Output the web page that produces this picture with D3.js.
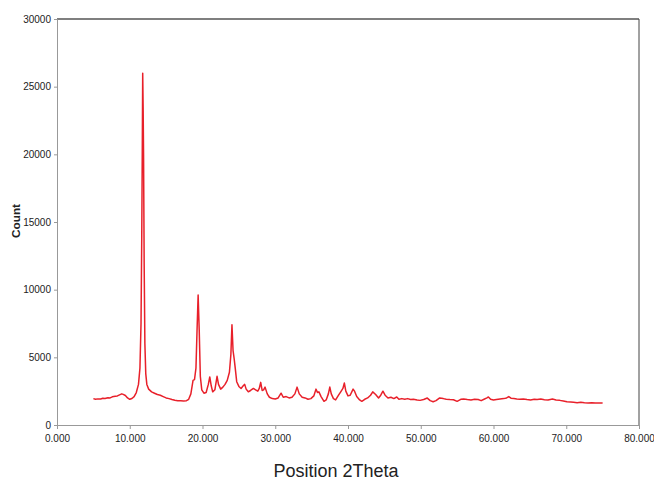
<!DOCTYPE html>
<html>
<head>
<meta charset="utf-8">
<script src="https://cdn.jsdelivr.net/npm/d3@7"></script>
<style>
    body { margin: 0; background: #fff; }
    svg text { font-family: "Liberation Sans", Arial, sans-serif; fill: #222; }
</style>
</head>
<body>
<svg id="chart" width="654" height="481"></svg>
<script>
// 2Theta positions and counts
const twoTheta = [
    5.0, 5.3, 5.6, 6.0, 6.3, 6.6, 7.0, 7.3, 7.6, 8.0, 8.3, 8.6, 8.9, 9.1, 9.4, 9.7,
    10.0, 10.3, 10.6, 10.9, 11.2, 11.4, 11.55, 11.65, 11.72, 11.78, 11.84, 11.9, 11.98, 12.08, 12.2, 12.35, 12.6,
    13.0, 13.4, 13.8, 14.2, 14.6, 15.0, 15.4, 15.8, 16.2, 16.6, 17.0, 17.4, 17.8, 18.1, 18.4, 18.7, 18.9,
    19.1, 19.25, 19.4, 19.55, 19.7, 19.9, 20.2, 20.5, 20.8, 21.0, 21.2, 21.4, 21.7, 22.0, 22.2, 22.5, 22.8,
    23.1, 23.4, 23.7, 23.9, 24.05, 24.2, 24.35, 24.5, 24.7, 25.0, 25.3, 25.6, 25.8, 26.0, 26.3, 26.6,
    27.0, 27.3, 27.6, 27.8, 28.0, 28.2, 28.4, 28.6, 28.9, 29.2, 29.6, 30.0, 30.4, 30.8, 31.1, 31.5, 31.9,
    32.3, 32.7, 33.0, 33.3, 33.7, 34.1, 34.5, 34.9, 35.3, 35.6, 35.8, 36.0, 36.3, 36.7, 37.0, 37.3, 37.5,
    37.7, 38.0, 38.3, 38.7, 39.0, 39.3, 39.5, 39.7, 40.0, 40.3, 40.7, 40.9, 41.2, 41.6, 41.9, 42.3, 42.7,
    43.1, 43.4, 43.8, 44.2, 44.5, 44.8, 45.1, 45.5, 45.9, 46.3, 46.7, 47.0, 47.4, 47.8, 48.2, 48.6, 49.0,
    49.5, 49.9, 50.4, 50.9, 51.3, 51.7, 52.1, 52.6, 53.1, 53.5, 54.0, 54.5, 55.0, 55.5, 55.9, 56.4, 56.9,
    57.4, 57.9, 58.3, 58.7, 59.1, 59.3, 59.6, 60.0, 60.4, 60.9, 61.4, 61.8, 62.1, 62.4, 62.8, 63.2, 63.6,
    64.1, 64.6, 65.1, 65.6, 66.0, 66.5, 67.0, 67.5, 68.1, 68.6, 69.1, 69.6, 70.1, 70.6, 71.0, 71.5, 72.0,
    72.5, 73.0, 73.5, 74.0, 74.5, 75.0
];
const counts = [
    1950, 1900, 1930, 1920, 1980, 1960, 2020, 2000, 2080, 2120, 2150, 2230, 2300, 2260, 2180, 2000,
    1900, 1960, 2100, 2400, 3000, 4200, 7500, 14000, 20000, 26000, 23500, 19800, 12000, 6000, 3800, 3000, 2650,
    2450, 2350, 2250, 2200, 2100, 2000, 1950, 1880, 1830, 1800, 1790, 1780, 1800, 1900, 2300, 3300, 3350,
    4200, 7000, 9600, 7000, 3600, 2600, 2350, 2400, 3000, 3550, 2900, 2450, 2600, 3600, 3000, 2650, 2800,
    3000, 3300, 3900, 5200, 7400, 5500, 4900, 4200, 3200, 2850, 2700, 2900, 3000, 2650, 2450, 2550,
    2700, 2600, 2500, 2700, 3150, 2550, 2600, 2800, 2300, 2050, 1950, 1920, 2000, 2350, 2050, 2100, 2000,
    2050, 2300, 2800, 2300, 2050, 2000, 1900, 1950, 2150, 2650, 2400, 2450, 2100, 1750, 1850, 2300, 2800,
    2300, 1950, 1850, 2200, 2450, 2700, 3100, 2500, 2150, 2200, 2650, 2500, 2100, 1850, 1750, 1900, 2000,
    2200, 2450, 2250, 2000, 2200, 2500, 2200, 2000, 2050, 1950, 2070, 1900, 1950, 1900, 1950, 1880, 1900,
    1850, 1820, 1880, 1990, 1800, 1720, 1800, 2000, 1950, 1900, 1880, 1870, 1750, 1900, 1920, 1880, 1850,
    1900, 1880, 1800, 1900, 2000, 2070, 1900, 1850, 1880, 1920, 1950, 2000, 2100, 1980, 1950, 1920, 1900,
    1920, 1880, 1850, 1900, 1880, 1920, 1870, 1850, 1920, 1850, 1820, 1780, 1720, 1700, 1680, 1650, 1680,
    1650, 1630, 1640, 1620, 1630, 1620
];
const xTicks = [0, 10, 20, 30, 40, 50, 60, 70, 80];
const yTicks = [0, 5000, 10000, 15000, 20000, 25000, 30000];

const svg = d3.select('#chart');
const plotL = 57, plotR = 639, plotT = 19, plotB = 425;

const x = d3.scaleLinear().domain([0, 80]).range([plotL, plotR]);
const y = d3.scaleLinear().domain([0, 30000]).range([plotB, plotT]);

// 上框與右框
svg.append('line')
    .attr('x1', plotL).attr('x2', plotR).attr('y1', plotT).attr('y2', plotT)
    .attr('stroke', '#555').attr('stroke-width', 1.5);
svg.append('line')
    .attr('x1', plotR).attr('x2', plotR).attr('y1', plotT).attr('y2', plotB)
    .attr('stroke', '#444').attr('stroke-width', 1);

// 座標軸
const xAxis = svg.append('g')
    .attr('transform', `translate(0,${plotB})`)
    .call(d3.axisBottom(x).tickValues(xTicks).tickSize(4).tickPadding(6).tickFormat(d3.format('.3f')));
const yAxis = svg.append('g')
    .attr('transform', `translate(${plotL},0)`)
    .call(d3.axisLeft(y).tickValues(yTicks).tickSize(3).tickPadding(3).tickFormat(d => d));

[xAxis, yAxis].forEach(g => {
    g.select('.domain').attr('stroke', '#999');
    g.selectAll('.tick line').attr('stroke', '#999');
    g.selectAll('text').attr('font-size', 10).attr('fill', '#222')
        .attr('font-family', '"Liberation Sans", Arial, sans-serif');
});

// 資料線
const pts = twoTheta.map((t, i) => [t, counts[i]]);
svg.append('path')
    .datum(pts)
    .attr('fill', 'none')
    .attr('stroke', '#e8202a')
    .attr('stroke-width', 1.5)
    .attr('stroke-linejoin', 'round')
    .attr('d', d3.line().x(d => x(d[0])).y(d => y(d[1])));

// 標題
svg.append('text')
    .attr('x', 336).attr('y', 477)
    .attr('text-anchor', 'middle')
    .attr('font-size', 18)
    .text('Position 2Theta');

svg.append('text')
    .attr('transform', 'translate(20,221) rotate(-90)')
    .attr('text-anchor', 'middle')
    .attr('font-size', 10)
    .attr('font-weight', 'bold')
    .attr('textLength', 34)
    .attr('lengthAdjust', 'spacingAndGlyphs')
    .text('Count');
</script>
</body>
</html>
